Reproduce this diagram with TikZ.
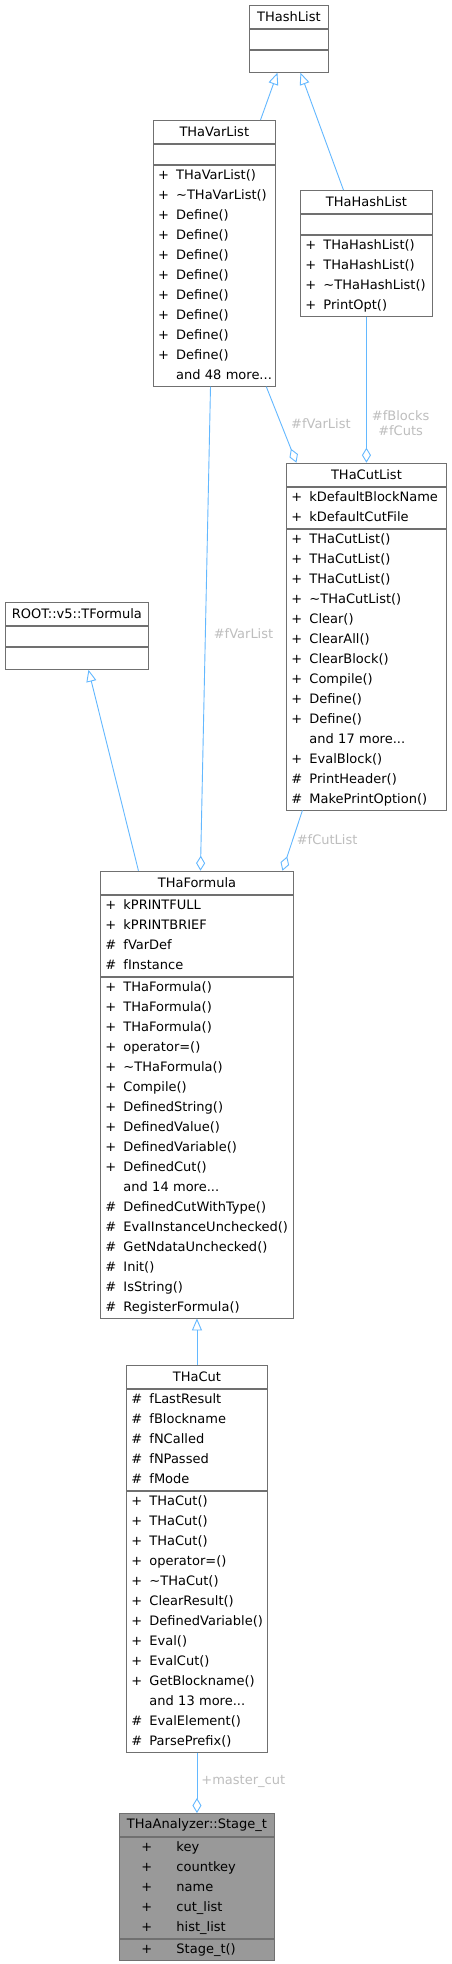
\documentclass[tikz,border=0pt]{standalone}
\usepackage{fontspec}
\setmainfont{DejaVu Sans}
\usetikzlibrary{positioning,arrows.meta}
\definecolor{edgeblue}{HTML}{63B8FF}
\definecolor{boxgray}{HTML}{707070}
\definecolor{lblgray}{HTML}{BEBEBE}
\definecolor{curgray}{HTML}{999999}
\newcommand{\members}[1]{\begin{tabular}{@{}p{18pt}@{}l@{}}#1\end{tabular}}
\newcommand{\stagerows}[1]{\begin{tabular}{@{\hspace{17pt}}p{35pt}@{}l@{}}#1\end{tabular}}
\begin{document}
\begin{tikzpicture}[x=1pt, y=-1pt, font=\fontsize{13}{20}\selectfont,
  cls/.style={draw=boxgray, line width=0.9pt, fill=white, inner xsep=5pt},
  ttl/.style={cls, minimum height=23pt, align=center},
  sec/.style={cls, inner ysep=0.5pt, align=left},
  edge/.style={draw=edgeblue, line width=0.9pt},
  inh/.style={edge, -{Triangle[open, length=12pt, width=10pt]}},
  agg/.style={edge, -{Diamond[open, length=15pt, width=9pt]}},
  lbl/.style={text=lblgray, inner sep=1pt, font=\fontsize{13}{15}\selectfont}]
  \fill[white] (0,0) rectangle (451,1964);
  \useasboundingbox (0,0) rectangle (451,1964);
  % THashList
  \node[ttl, text width=69pt, anchor=north west] (thashlist) at (249,5) {THashList};
  \node[sec, text width=69pt, minimum height=20pt, below=0pt of thashlist] (thashlist-a) {};
  \node[sec, text width=69pt, minimum height=22pt, below=0pt of thashlist-a] (thashlist-m) {};
  % THaVarList
  \node[ttl, text width=112.3pt, anchor=north west] (varlist) at (152.7,120) {THaVarList};
  \node[sec, text width=112.3pt, minimum height=20pt, below=0pt of varlist] (varlist-a) {};
  \node[sec, text width=112.3pt, below=0pt of varlist-a] (varlist-m) {\members{
    + & THaVarList()\\ + & \textasciitilde THaVarList()\\ + & Define()\\ + & Define()\\
    + & Define()\\ + & Define()\\ + & Define()\\ + & Define()\\ + & Define()\\ + & Define()\\
    & and 48 more...}};
  % THaHashList
  \node[ttl, text width=122pt, anchor=north west] (hahashlist) at (300,190) {THaHashList};
  \node[sec, text width=122pt, minimum height=20pt, below=0pt of hahashlist] (hahashlist-a) {};
  \node[sec, text width=122pt, below=0pt of hahashlist-a] (hahashlist-m) {\members{
    + & THaHashList()\\ + & THaHashList()\\ + & \textasciitilde THaHashList()\\ + & PrintOpt()}};
  % THaCutList
  \node[ttl, text width=150pt, anchor=north west] (cutlist) at (286,462.7) {THaCutList};
  \node[sec, text width=150pt, below=0pt of cutlist] (cutlist-a) {\members{
    + & kDefaultBlockName\\ + & kDefaultCutFile}};
  \node[sec, text width=150pt, below=0pt of cutlist-a] (cutlist-m) {\members{
    + & THaCutList()\\ + & THaCutList()\\ + & THaCutList()\\ + & \textasciitilde THaCutList()\\
    + & Clear()\\ + & ClearAll()\\ + & ClearBlock()\\ + & Compile()\\ + & Define()\\ + & Define()\\
    & and 17 more...\\ + & EvalBlock()\\ \# & PrintHeader()\\ \# & MakePrintOption()}};
  % ROOT::v5::TFormula
  \node[ttl, text width=133pt, anchor=north west] (tformula) at (5,602) {ROOT::v5::TFormula};
  \node[sec, text width=133pt, minimum height=20pt, below=0pt of tformula] (tformula-a) {};
  \node[sec, text width=133pt, minimum height=22pt, below=0pt of tformula-a] (tformula-m) {};
  % THaFormula
  \node[ttl, text width=183pt, anchor=north west] (formula) at (100,870.7) {THaFormula};
  \node[sec, text width=183pt, below=0pt of formula] (formula-a) {\members{
    + & kPRINTFULL\\ + & kPRINTBRIEF\\ \# & fVarDef\\ \# & fInstance}};
  \node[sec, text width=183pt, below=0pt of formula-a] (formula-m) {\members{
    + & THaFormula()\\ + & THaFormula()\\ + & THaFormula()\\ + & operator=()\\
    + & \textasciitilde THaFormula()\\ + & Compile()\\ + & DefinedString()\\ + & DefinedValue()\\
    + & DefinedVariable()\\ + & DefinedCut()\\ & and 14 more...\\ \# & DefinedCutWithType()\\
    \# & EvalInstanceUnchecked()\\ \# & GetNdataUnchecked()\\ \# & Init()\\ \# & IsString()\\
    \# & RegisterFormula()}};
  % THaCut
  \node[ttl, text width=131pt, anchor=north west] (cut) at (126,1365) {THaCut};
  \node[sec, text width=131pt, below=0pt of cut] (cut-a) {\members{
    \# & fLastResult\\ \# & fBlockname\\ \# & fNCalled\\ \# & fNPassed\\ \# & fMode}};
  \node[sec, text width=131pt, below=0pt of cut-a] (cut-m) {\members{
    + & THaCut()\\ + & THaCut()\\ + & THaCut()\\ + & operator=()\\ + & \textasciitilde THaCut()\\
    + & ClearResult()\\ + & DefinedVariable()\\ + & Eval()\\ + & EvalCut()\\ + & GetBlockname()\\
    & and 13 more...\\ \# & EvalElement()\\ \# & ParsePrefix()}};
  % THaAnalyzer::Stage_t
  \node[ttl, fill=curgray, text width=145pt, anchor=north west] (stage) at (119,1813) {THaAnalyzer::Stage\_t};
  \node[sec, fill=curgray, text width=145pt, below=0pt of stage] (stage-a) {\stagerows{
    + & key\\ + & countkey\\ + & name\\ + & cut\_list\\ + & hist\_list}};
  \node[sec, fill=curgray, text width=145pt, below=0pt of stage-a] (stage-m) {\stagerows{+ & Stage\_t()}};
  % inheritance
  \draw[inh] ([xshift=46.2pt]varlist.north) -- ([xshift=-11.5pt]thashlist-m.south);
  \draw[inh] ([xshift=-23pt]hahashlist.north) -- ([xshift=11.5pt]thashlist-m.south);
  \draw[inh] ([xshift=-58.5pt]formula.north) -- ([xshift=11.5pt]tformula-m.south);
  \draw[inh] (cut.north) -- (formula-m.south);
  % members
  \draw[agg] ([xshift=52pt]varlist-m.south) -- ([xshift=-70pt]cutlist.north)
    node[lbl, pos=.48, right=9pt] (l-varlist1) {\#fVarList};
  \draw[agg] (hahashlist-m.south) -- (cutlist.north)
    node[lbl, pos=.73, right=4pt, align=center] (l-blocks) {\#fBlocks\\\#fCuts};
  \draw[agg] ([xshift=-3.8pt]varlist-m.south) -- ([xshift=3.5pt]formula.north)
    node[lbl, pos=.51, right=7pt] (l-varlist2) {\#fVarList};
  \draw[agg] ([xshift=-64pt]cutlist-m.south) -- ([xshift=85.5pt]formula.north)
    node[lbl, pos=.48, right=2.5pt] (l-cutlist) {\#fCutList};
  \draw[agg] (cut-m.south) -- (stage.north)
    node[lbl, pos=.47, right=3pt] (l-master) {+master\_cut};
\end{tikzpicture}
\end{document}
